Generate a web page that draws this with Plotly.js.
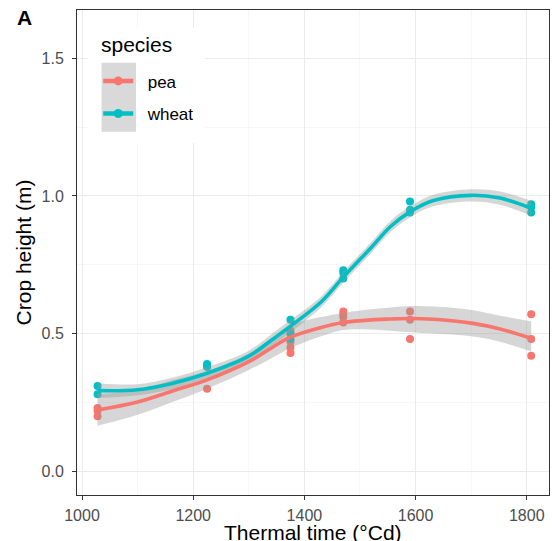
<!DOCTYPE html>
<html>
<head>
<meta charset="utf-8">
<script src="https://cdn.plot.ly/plotly-3.0.1.min.js"></script>
<style>html,body{margin:0;padding:0;background:#fff;}#chart{width:552px;height:541px;}</style>
</head>
<body>
<div id="chart"></div>
<script>
// ---- observed points ----
const peaX = [1028,1028,1028,1225,1225,1375,1375,1375,1375,1470,1470,1470,1470,1590,1590,1590,1808,1808,1808];
const peaY = [0.23,0.22,0.20,0.30,0.38,0.51,0.47,0.45,0.43,0.58,0.57,0.56,0.54,0.58,0.55,0.48,0.57,0.48,0.42];
const wheatX = [1028,1028,1225,1225,1375,1375,1375,1470,1470,1470,1590,1590,1590,1808,1808,1808];
const wheatY = [0.31,0.28,0.39,0.38,0.55,0.50,0.48,0.73,0.72,0.70,0.98,0.95,0.94,0.97,0.96,0.94];

// ---- smooth curves ----
const fitX = [1028,1100,1160,1225,1300,1340,1375,1430,1470,1520,1555,1590,1632,1700,1752,1808];
const peaFit = [0.223,0.252,0.290,0.332,0.398,0.447,0.487,0.522,0.540,0.550,0.553,0.555,0.552,0.538,0.517,0.483];
const peaLo  = [0.165,0.205,0.250,0.300,0.368,0.410,0.447,0.490,0.513,0.515,0.510,0.505,0.500,0.490,0.470,0.435];
const peaHi  = [0.280,0.295,0.330,0.364,0.428,0.480,0.530,0.560,0.575,0.588,0.595,0.600,0.598,0.586,0.565,0.545];
const wheatFit = [0.293,0.296,0.318,0.356,0.418,0.475,0.527,0.615,0.705,0.812,0.889,0.942,0.983,1.002,0.992,0.955];
const wheatLo  = [0.266,0.276,0.297,0.334,0.398,0.453,0.505,0.595,0.685,0.792,0.869,0.922,0.962,0.980,0.968,0.928];
const wheatHi  = [0.320,0.316,0.339,0.378,0.438,0.497,0.549,0.635,0.725,0.832,0.909,0.962,1.004,1.024,1.016,0.982];

const species = ['pea','wheat'];
const colors = ['#F8766D','#00BFC4'];
const xTicks = [1000,1200,1400,1600,1800];
const yTicks = [0.0,0.5,1.0,1.5];

const FONT = 'Liberation Sans, Arial, Helvetica, sans-serif';
const band = 'rgba(153,153,153,0.4)';
const NB = '\u00a0';

const traces = [
  {x: peaX, y: peaY, mode:'markers', marker:{color:colors[0], size:8}, showlegend:false},
  {x: wheatX, y: wheatY, mode:'markers', marker:{color:colors[1], size:8}, showlegend:false},
  {x: fitX, y: peaLo, mode:'lines', line:{width:0, shape:'spline'}, showlegend:false},
  {x: fitX, y: peaHi, mode:'lines', line:{width:0, shape:'spline'}, fill:'tonexty', fillcolor:band, showlegend:false},
  {x: fitX, y: wheatLo, mode:'lines', line:{width:0, shape:'spline'}, showlegend:false},
  {x: fitX, y: wheatHi, mode:'lines', line:{width:0, shape:'spline'}, fill:'tonexty', fillcolor:band, showlegend:false},
  {x: fitX, y: peaFit, mode:'lines', line:{color:colors[0], width:3.6, shape:'spline'}, showlegend:false},
  {x: fitX, y: wheatFit, mode:'lines', line:{color:colors[1], width:3.6, shape:'spline'}, showlegend:false},
  // legend entries
  {x:[null], y:[null], name:NB+NB+species[0], mode:'lines+markers', line:{color:colors[0], width:4.5}, marker:{color:colors[0], size:9}, legendgroup:'a'},
  {x:[null], y:[null], name:NB+NB+species[1], mode:'lines+markers', line:{color:colors[1], width:4.5}, marker:{color:colors[1], size:9}, legendgroup:'b'}
];

const axisCommon = {
  showline:true, mirror:true, linecolor:'#333333', linewidth:1,
  ticks:'outside', ticklen:4, tickcolor:'#333333', tickwidth:1,
  gridcolor:'#EBEBEB', gridwidth:1, zeroline:false,
  tickfont:{family:FONT, size:16, color:'#4D4D4D'},
  automargin:false
};

const layout = {
  width:552, height:541,
  margin:{l:77, r:3, t:10, b:46},
  paper_bgcolor:'#fff', plot_bgcolor:'#fff',
  font:{family:FONT},
  xaxis: Object.assign({}, axisCommon, {
    range:[991,1840], tickvals:xTicks, ticktext:xTicks.map(String),
    ticklabelstandoff:2,
    minor:{dtick:100, tick0:1000, showgrid:true, gridcolor:'#F2F2F2', gridwidth:0.6, ticks:''}
  }),
  yaxis: Object.assign({}, axisCommon, {
    range:[-0.086,1.675], tickvals:yTicks, ticktext:yTicks.map(v=>v.toFixed(1)),
    ticklabelstandoff:5,
    minor:{dtick:0.25, tick0:0, showgrid:true, gridcolor:'#F2F2F2', gridwidth:0.6, ticks:''},
    title:{text:'Crop height (m)', font:{family:FONT, size:21, color:'#000'}, standoff:4}
  }),
  showlegend:true,
  legend:{
    x:0.045, y:0.890, xanchor:'left', yanchor:'top',
    bgcolor:'rgba(0,0,0,0)', borderwidth:0,
    font:{family:FONT, size:17, color:'#000'},
    tracegroupgap:7.5, itemwidth:30
  },
  shapes:[
    {type:'rect', xref:'paper', yref:'paper', x0:0.023, x1:0.271, y0:0.726, y1:0.963, fillcolor:'#fff', line:{width:0}, layer:'above'},
    {type:'rect', xref:'paper', yref:'paper', x0:0.052, x1:0.125, y0:0.749, y1:0.891, fillcolor:'#D9D9D9', line:{width:0}, layer:'above'}
  ],
  annotations:[
    {text:'species', xref:'paper', yref:'paper', x:0.047, y:0.928, xanchor:'left', yanchor:'middle', showarrow:false, font:{family:FONT, size:21, color:'#000'}},
    {text:'Thermal time (°Cd)', xref:'paper', yref:'paper', x:0.5, y:-0.0495, xanchor:'center', yanchor:'top', showarrow:false, font:{family:FONT, size:21, color:'#000'}},
    {text:'<b>A</b>', xref:'paper', yref:'paper', x:-0.131, y:1.012, xanchor:'left', yanchor:'top', showarrow:false, font:{family:FONT, size:21, color:'#000'}}
  ]
};

Plotly.newPlot('chart', traces, layout, {displayModeBar:false, staticPlot:true});
</script>
</body>
</html>
